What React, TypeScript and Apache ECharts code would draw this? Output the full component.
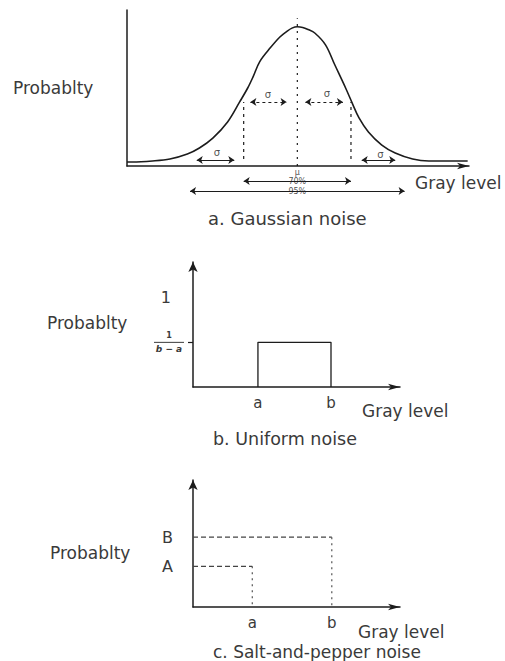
import React, { useEffect, useRef } from 'react';
import * as echarts from 'echarts';

// ---------- a. Gaussian noise ----------
const gaussX = [0, 4, 19, 32, 45, 54, 64, 75, 84, 90, 94, 99, 107, 114, 119, 123, 127, 131, 135, 140, 148, 155, 163, 168, 173, 180, 190, 200, 213, 225, 254];
const gaussY = [0.029, 0.029, 0.036, 0.05, 0.086, 0.129, 0.2, 0.316, 0.46, 0.56, 0.64, 0.75, 0.85, 0.926, 0.965, 0.99, 1.0, 0.995, 0.98, 0.955, 0.87, 0.725, 0.56, 0.45, 0.345, 0.244, 0.15, 0.093, 0.05, 0.036, 0.036];
const gaussMean = 127;
const gaussSigma = 40;
const meanLineTop = 1.06;
const sigmaLineRange = [0.05, 0.46];
// σ arrows: [from, to, level]
const sigmaTopArrows = [[92, 119, 0.46], [133, 161, 0.46]];
const tailArrows = [[52, 80, 0.043], [175, 200, 0.043]];
const sigmaLabels = [[105, 0.51], [149, 0.52], [67, 0.1], [189, 0.086]];
// spans below the axis: [from, to, row]
const spanArrows = [[gaussMean - gaussSigma, gaussMean + gaussSigma, 15], [gaussMean - 2 * gaussSigma, gaussMean + 2 * gaussSigma, 25]];
const spanLabels = [[gaussMean, 6, 'μ'], [gaussMean, 15, '70%'], [gaussMean, 25, '95%']];

// ---------- b. Uniform noise ----------
const uniformA = 80;
const uniformB = 170;
const uniformDensity = 0.5;
const uniformOne = 1;

// ---------- c. Salt-and-pepper noise ----------
const spA = 73;
const spB = 171;
const probA = 0.32;
const probB = 0.55;

const LINE = '#1c1c1c';
const TEXT = '#3a3a3a';
const FONT = '"DejaVu Sans", sans-serif';

const hiddenBits = {
  axisTick: { show: false },
  axisLabel: { show: false },
  splitLine: { show: false },
};

function axisLine(arrow: boolean, size: number[] = [7, 10]) {
  return {
    show: true,
    lineStyle: { color: LINE, width: 1.5 },
    symbol: arrow ? ['none', 'arrow'] : 'none',
    symbolSize: size,
  };
}

function textEl(text: string, x: number, y: number, size = 17) {
  return {
    type: 'text',
    x,
    y,
    silent: true,
    style: {
      text,
      fill: TEXT,
      font: `${size}px ${FONT}`,
      align: 'left',
      verticalAlign: 'middle',
    },
  };
}

function buildOption(): any {
  const arrowLine = (a: number[], dashed: boolean) => [
    { coord: [a[0], a[2]], lineStyle: { type: dashed ? [3, 3] : 'solid', color: LINE, width: 1 } },
    { coord: [a[1], a[2]] },
  ];

  return {
    animation: false,
    backgroundColor: '#ffffff',
    grid: [
      { left: 127, top: 10, width: 342, height: 156 },
      { left: 127, top: 166, width: 342, height: 30 },
      { left: 193, top: 262, width: 207, height: 125 },
      { left: 193, top: 480, width: 207, height: 127 },
    ],
    xAxis: [
      { gridIndex: 0, type: 'value', min: 0, max: 255, axisLine: axisLine(true, [5, 12]), ...hiddenBits },
      { gridIndex: 1, type: 'value', min: 0, max: 255, show: false },
      {
        gridIndex: 2, type: 'value', min: 0, max: 255,
        axisLine: axisLine(true, [5, 12]),
        axisTick: { show: false },
        splitLine: { show: false },
        axisLabel: {
          customValues: [uniformA, uniformB],
          formatter: (v: number) => (v === uniformA ? 'a' : 'b'),
          margin: 8, fontSize: 15, fontFamily: FONT, color: TEXT,
        },
      },
      {
        gridIndex: 3, type: 'value', min: 0, max: 255,
        axisLine: axisLine(true, [5, 12]),
        axisTick: { show: false },
        splitLine: { show: false },
        axisLabel: {
          customValues: [spA, spB],
          formatter: (v: number) => (v === spA ? 'a' : 'b'),
          margin: 8, fontSize: 15, fontFamily: FONT, color: TEXT,
        },
      },
    ],
    yAxis: [
      { gridIndex: 0, type: 'value', min: 0, max: 1.12, axisLine: axisLine(false), ...hiddenBits },
      { gridIndex: 1, type: 'value', min: 0, max: 30, inverse: true, show: false },
      {
        gridIndex: 2, type: 'value', min: 0, max: 1.4,
        axisLine: axisLine(true, [7, 10]),
        splitLine: { show: false },
        axisTick: { show: true, customValues: [uniformDensity], length: 5, lineStyle: { color: LINE, width: 1.2 } },
        axisLabel: {
          customValues: [uniformDensity, uniformOne],
          margin: 9,
          formatter: (v: number) => (v === uniformOne ? '{one|1}' : '{num|1}\n{bar| }\n{den|b − a}'),
          rich: {
            one: { fontSize: 16, fontFamily: FONT, color: TEXT, padding: [0, 13, 0, 0] },
            num: { fontSize: 8, fontWeight: 'bold', fontFamily: FONT, color: TEXT, align: 'center', lineHeight: 10 },
            bar: { width: 30, height: 1, backgroundColor: TEXT, fontSize: 1, lineHeight: 3, align: 'center' },
            den: { fontSize: 9, fontWeight: 'bold', fontStyle: 'italic', fontFamily: FONT, color: TEXT, align: 'center', lineHeight: 10 },
          },
        },
      },
      {
        gridIndex: 3, type: 'value', min: 0, max: 1,
        axisLine: axisLine(true, [7, 10]),
        splitLine: { show: false },
        axisTick: { show: false },
        axisLabel: {
          customValues: [probA, probB],
          formatter: (v: number) => (v === probA ? 'A' : 'B'),
          margin: 20, fontSize: 16, fontFamily: FONT, color: TEXT,
        },
      },
    ],
    series: [
      // Gaussian density curve
      {
        type: 'line', xAxisIndex: 0, yAxisIndex: 0,
        data: gaussX.map((x, i) => [x, gaussY[i]]),
        smooth: 0.35, symbol: 'none',
        lineStyle: { color: LINE, width: 1.6 },
      },
      // mean line
      {
        type: 'line', xAxisIndex: 0, yAxisIndex: 0,
        data: [[gaussMean, 0], [gaussMean, meanLineTop]],
        symbol: 'none', lineStyle: { color: LINE, width: 1.2, type: [2, 5] },
      },
      // ±σ lines
      ...[gaussMean - gaussSigma, gaussMean + gaussSigma].map((x) => ({
        type: 'line', xAxisIndex: 0, yAxisIndex: 0,
        data: [[x, sigmaLineRange[0]], [x, sigmaLineRange[1]]],
        symbol: 'none', lineStyle: { color: LINE, width: 1.2, type: [3, 4] },
      })),
      // σ labels and arrows
      {
        type: 'scatter', xAxisIndex: 0, yAxisIndex: 0,
        data: sigmaLabels,
        symbolSize: 0,
        silent: true,
        label: { show: true, position: 'inside', formatter: 'σ', fontSize: 10, fontFamily: FONT, color: LINE },
        markLine: {
          silent: true,
          symbol: ['arrow', 'arrow'],
          symbolSize: 6,
          label: { show: false },
          data: [
            ...sigmaTopArrows.map((a) => arrowLine(a, true)),
            ...tailArrows.map((a) => arrowLine(a, false)),
          ],
        },
      },
      // μ, 70% and 95% spans below the axis
      {
        type: 'scatter', xAxisIndex: 1, yAxisIndex: 1,
        data: spanLabels,
        symbolSize: 0,
        silent: true,
        label: {
          show: true, position: 'inside',
          formatter: (p: any) => p.data[2],
          fontSize: 8, fontFamily: FONT, color: LINE,
        },
        markLine: {
          silent: true,
          symbol: ['arrow', 'arrow'],
          symbolSize: 6,
          label: { show: false },
          data: spanArrows.map((a) => arrowLine(a, false)),
        },
      },
      // uniform density box
      {
        type: 'line', xAxisIndex: 2, yAxisIndex: 2,
        data: [[uniformA, 0], [uniformA, uniformDensity], [uniformB, uniformDensity], [uniformB, 0]],
        symbol: 'none', lineStyle: { color: LINE, width: 1.3 },
      },
      // salt-and-pepper impulses
      ...[
        [[0, probB], [spB, probB], [5, 3]],
        [[spB, probB], [spB, 0], [2, 4]],
        [[0, probA], [spA, probA], [5, 3]],
        [[spA, probA], [spA, 0], [2, 4]],
      ].map((seg) => ({
        type: 'line', xAxisIndex: 3, yAxisIndex: 3,
        data: [seg[0], seg[1]],
        symbol: 'none', lineStyle: { color: '#444', width: 1.1, type: seg[2] },
      })),
    ],
    graphic: [
      textEl('Probablty', 13, 88),
      textEl('Gray level', 415, 183),
      textEl('a. Gaussian noise', 208, 218, 18),
      textEl('Probablty', 47, 323),
      textEl('Gray level', 362, 411),
      textEl('b. Uniform noise', 213, 439, 17.5),
      textEl('Probablty', 50, 553),
      textEl('Gray level', 358, 632),
      textEl('c. Salt-and-pepper noise', 213, 652),
    ],
  };
}

export default function App() {
  const ref = useRef<HTMLDivElement>(null);
  useEffect(() => {
    if (!ref.current) return;
    const chart = echarts.init(ref.current, null, { renderer: 'svg' });
    chart.setOption(buildOption());
    return () => chart.dispose();
  }, []);
  return (
    <div
      ref={ref}
      style={{ position: 'absolute', left: 0, top: 0, width: 505, height: 661, background: '#fff' }}
    />
  );
}
